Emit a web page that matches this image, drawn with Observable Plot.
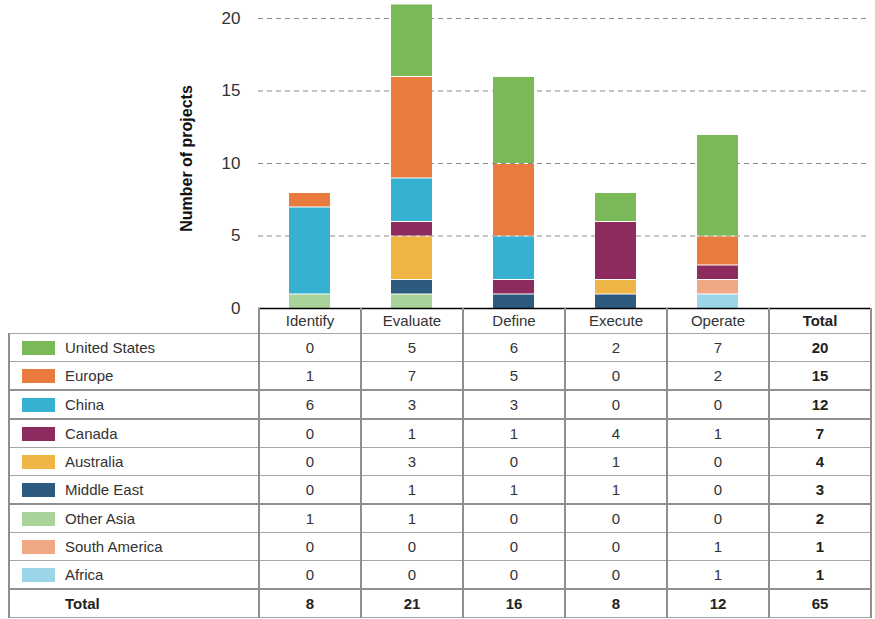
<!DOCTYPE html>
<html>
<head>
<meta charset="utf-8">
<script src="https://cdn.jsdelivr.net/npm/d3@7"></script>
<script src="https://cdn.jsdelivr.net/npm/@observablehq/plot@0.6"></script>
<style>
  html, body { margin: 0; padding: 0; background: #fff; }
  body { width: 875px; height: 619px; position: relative; overflow: hidden; font-family: "Liberation Sans", Arial, sans-serif; }
  #chart { position: absolute; left: 0; top: 0; }
  #table { position: absolute; left: 8px; top: 308px; border-collapse: collapse; table-layout: fixed; font-size: 15px; color: #333; }
  #table td { padding: 0; text-align: center; border-left: 2px solid #8f8f8f; border-right: 2px solid #8f8f8f; border-top: 1px solid #a6a6a6; border-bottom: 1px solid #a6a6a6; height: 27px; }
  #table tr.head td { border-top: none; height: 25px; }
  #table tr.head td.blank { border: none; border-bottom: 1px solid #a6a6a6; }
  #table tr.thick td { border-bottom: 2px solid #8f8f8f; }
  #table td.lab { text-align: left; white-space: nowrap; }
  #table td.bold { font-weight: bold; color: #222; }
  .sw { display: inline-block; width: 33px; height: 14px; margin-left: 12px; margin-right: 10px; vertical-align: -2px; }
</style>
</head>
<body>
<div id="chart"></div>
<table id="table"></table>
<script>
const phases = ["Identify", "Evaluate", "Define", "Execute", "Operate"];
const columns = ["Identify", "Evaluate", "Define", "Execute", "Operate", "Total"];
const regions = ["United States", "Europe", "China", "Canada", "Australia", "Middle East", "Other Asia", "South America", "Africa"];
const colors = ["#7ab957", "#e97b3f", "#36b1d2", "#8d2a5e", "#f0b645", "#2d5b80", "#a9d398", "#f1a985", "#9dd5e8"];

const unitedStates = [0, 5, 6, 2, 7];
const europe       = [1, 7, 5, 0, 2];
const china        = [6, 3, 3, 0, 0];
const canada       = [0, 1, 1, 4, 1];
const australia    = [0, 3, 0, 1, 0];
const middleEast   = [0, 1, 1, 1, 0];
const otherAsia    = [1, 1, 0, 0, 0];
const southAmerica = [0, 0, 0, 0, 1];
const africa       = [0, 0, 0, 0, 1];
const series = [unitedStates, europe, china, canada, australia, middleEast, otherAsia, southAmerica, africa];
const thickAfter = ["Europe", "China", "Middle East", "Africa"];
const yTicks = [0, 5, 10, 15, 20];

const data = [];
regions.forEach((r, i) => phases.forEach((p, j) => data.push({region: r, phase: p, value: series[i][j]})));

const chart = Plot.plot({
  width: 875,
  height: 310,
  marginLeft: 258,
  marginRight: 5,
  marginTop: 0,
  marginBottom: 2,
  style: {fontFamily: "'Liberation Sans', Arial, sans-serif", fontSize: "17px", color: "#333", background: "transparent", overflow: "visible"},
  x: {domain: columns, paddingInner: 0.6, paddingOuter: 0.3, axis: null},
  y: {domain: [0, 21.24], axis: null},
  color: {domain: regions, range: colors},
  marks: [
    Plot.gridY(yTicks.filter(t => t > 0), {stroke: "#8a8a8a", strokeOpacity: 1, strokeDasharray: "5,4", strokeWidth: 1}),
    Plot.barY(data.filter(d => d.value > 0), Plot.stackY({
      x: "phase", y: "value", fill: "region", z: "region",
      order: regions.slice().reverse(), insetTop: 1
    })),
    Plot.ruleY([0], {stroke: "#000", strokeWidth: 1.5}),
    Plot.axisY(yTicks, {tickSize: 0, tickPadding: 18, label: null, fontSize: 17, fill: "#333"}),
    Plot.text(["Number of projects"], {frameAnchor: "left", textAnchor: "middle", dx: -72, dy: 4, rotate: -90, fontWeight: "bold", fontSize: 16, fill: "#111"})
  ]
});
document.getElementById("chart").appendChild(chart);

// Data table / legend
const table = document.getElementById("table");
const colgroup = document.createElement("colgroup");
const c0 = document.createElement("col"); c0.style.width = "250px"; colgroup.appendChild(c0);
columns.forEach(() => { const c = document.createElement("col"); c.style.width = "102px"; colgroup.appendChild(c); });
table.appendChild(colgroup);

const head = document.createElement("tr"); head.className = "head";
const blank = document.createElement("td"); blank.className = "blank"; head.appendChild(blank);
columns.forEach(c => { const td = document.createElement("td"); td.textContent = c; if (c === "Total") td.className = "bold"; head.appendChild(td); });
table.appendChild(head);

regions.forEach((r, i) => {
  const tr = document.createElement("tr");
  if (thickAfter.includes(r)) tr.className = "thick";
  const lab = document.createElement("td"); lab.className = "lab";
  const sw = document.createElement("span"); sw.className = "sw"; sw.style.background = colors[i];
  lab.appendChild(sw); lab.appendChild(document.createTextNode(r));
  tr.appendChild(lab);
  series[i].forEach(v => { const td = document.createElement("td"); td.textContent = v; tr.appendChild(td); });
  const tot = document.createElement("td"); tot.className = "bold"; tot.textContent = d3.sum(series[i]); tr.appendChild(tot);
  table.appendChild(tr);
});

const totRow = document.createElement("tr");
const tl = document.createElement("td"); tl.className = "lab bold";
const sp = document.createElement("span"); sp.className = "sw"; sp.style.background = "transparent";
tl.appendChild(sp); tl.appendChild(document.createTextNode("Total"));
totRow.appendChild(tl);
phases.forEach((p, j) => { const td = document.createElement("td"); td.className = "bold"; td.textContent = d3.sum(series, s => s[j]); totRow.appendChild(td); });
const grand = document.createElement("td"); grand.className = "bold"; grand.textContent = d3.sum(series, s => d3.sum(s)); totRow.appendChild(grand);
table.appendChild(totRow);
</script>
</body>
</html>
